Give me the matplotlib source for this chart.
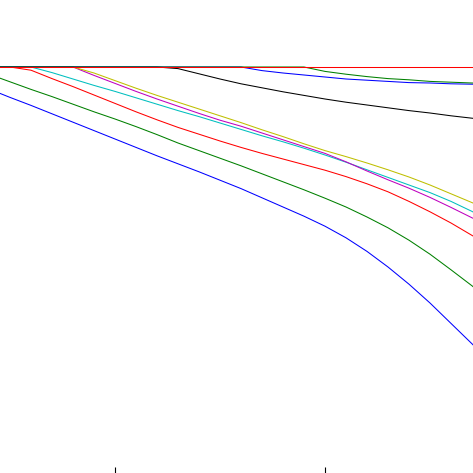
import matplotlib
matplotlib.use("Agg")
import matplotlib.pyplot as plt

x = [4, 5, 6, 7, 8, 9, 10, 11, 12, 13, 14, 15, 16, 17, 18, 19, 20, 21, 22, 23, 24, 25, 26, 27, 28]

s_blue1 = [0.945, 0.924, 0.904, 0.883, 0.862, 0.841, 0.820, 0.799, 0.778, 0.758, 0.738, 0.717, 0.696,
           0.673, 0.650, 0.627, 0.602, 0.573, 0.539, 0.500, 0.457, 0.410, 0.359, 0.308, 0.255]
s_green1 = [0.982, 0.963, 0.944, 0.926, 0.907, 0.888, 0.870, 0.851, 0.831, 0.810, 0.791, 0.772, 0.753,
            0.733, 0.713, 0.693, 0.672, 0.650, 0.625, 0.598, 0.567, 0.532, 0.493, 0.453, 0.410]
s_red1 = [1.0, 1.0, 0.992, 0.971, 0.951, 0.930, 0.909, 0.888, 0.868, 0.849, 0.832, 0.815, 0.799,
          0.784, 0.770, 0.756, 0.742, 0.726, 0.708, 0.688, 0.664, 0.638, 0.610, 0.579, 0.548]
s_cyan = [1.0, 1.0, 1.0, 0.986, 0.970, 0.954, 0.939, 0.923, 0.907, 0.891, 0.876, 0.860, 0.844,
          0.828, 0.813, 0.797, 0.780, 0.762, 0.743, 0.724, 0.705, 0.686, 0.664, 0.639, 0.610]
s_magenta = [1.0, 1.0, 1.0, 1.0, 1.0, 0.979, 0.959, 0.939, 0.920, 0.902, 0.884, 0.867, 0.852,
             0.835, 0.818, 0.801, 0.784, 0.763, 0.740, 0.718, 0.697, 0.674, 0.649, 0.623, 0.598]
s_yellow = [1.0, 1.0, 1.0, 1.0, 1.0, 0.985, 0.966, 0.947, 0.929, 0.912, 0.895, 0.878, 0.861,
            0.843, 0.826, 0.808, 0.791, 0.776, 0.760, 0.743, 0.725, 0.705, 0.683, 0.661, 0.638]
s_black = [1.0, 1.0, 1.0, 1.0, 1.0, 1.0, 1.0, 1.0, 1.0, 0.996, 0.983, 0.970, 0.958,
           0.948, 0.938, 0.929, 0.920, 0.912, 0.905, 0.898, 0.891, 0.885, 0.878, 0.872, 0.866]
s_blue2 = [1.0, 1.0, 1.0, 1.0, 1.0, 1.0, 1.0, 1.0, 1.0, 1.0, 1.0, 1.0, 1.0,
           0.991, 0.985, 0.980, 0.975, 0.970, 0.967, 0.964, 0.961, 0.960, 0.958, 0.957, 0.956]
s_green2 = [1.0, 1.0, 1.0, 1.0, 1.0, 1.0, 1.0, 1.0, 1.0, 1.0, 1.0, 1.0, 1.0,
            1.0, 1.0, 1.0, 0.989, 0.982, 0.976, 0.971, 0.968, 0.964, 0.962, 0.960, 0.959]
s_red2 = [1.0] * 25

series = [s_blue1, s_green1, s_red1, s_cyan, s_magenta, s_yellow, s_black, s_blue2, s_green2, s_red2]
colors = ['b', 'g', 'r', 'c', 'm', 'y', 'k', 'b', 'g', 'r']
xticks = [10, 20]

plt.style.use('classic')
fig = plt.figure(figsize=(4.73, 4.73), dpi=100, facecolor='white')
ax = fig.add_axes([0, 0, 1, 1])
ax.set_facecolor('white')
for s, c in zip(series, colors):
    ax.plot(x, s, color=c, lw=0.75)

ax.set_xlim(4.5238, 27.0476)
ax.set_ylim(-0.015, 1.1675)
for sp in ax.spines.values():
    sp.set_visible(False)
ax.set_xticks(xticks)
ax.set_xticklabels([])
ax.set_yticks([])
ax.tick_params(axis='x', direction='in', length=4, width=0.8, color='black',
               top=False, bottom=True)
fig.savefig("out.png", dpi=100, facecolor='white')
